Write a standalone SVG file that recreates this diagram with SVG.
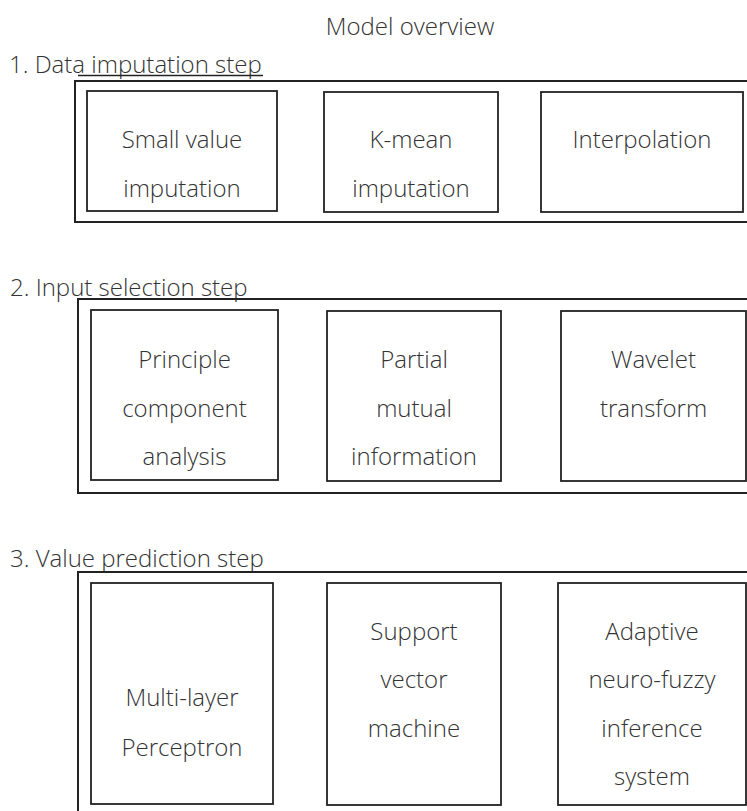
<svg xmlns="http://www.w3.org/2000/svg" width="747" height="811" viewBox="0 0 747 811">
<style>
text{font-family:"Open Sans","Noto Sans","DejaVu Sans",sans-serif;font-size:24px;fill:#333;font-weight:300}
.c{text-anchor:middle}
.outer{fill:none;stroke:#222;stroke-width:2}
.box{fill:#fff;stroke:#222;stroke-width:1.8}
.ul{stroke:#222;stroke-width:1.5}
</style>
<rect width="747" height="811" fill="#fff"/>
<text id="title" class="c" x="410" y="35">Model overview</text>

<g id="step1">
<rect class="outer" x="75" y="81" width="690" height="141"/>
<text x="9" y="73">1. Data imputation step</text>
<line class="ul" x1="78" y1="75.5" x2="263" y2="75.5"/>
<g id="small-value"><rect class="box" x="87" y="91" width="190" height="120"/><text class="c" x="182" y="148">Small value</text><text class="c" x="182" y="197">imputation</text></g>
<g id="k-mean"><rect class="box" x="324" y="92" width="174" height="120"/><text class="c" x="411" y="148">K-mean</text><text class="c" x="411" y="197">imputation</text></g>
<g id="interpolation"><rect class="box" x="541" y="92" width="202" height="120"/><text class="c" x="642" y="148">Interpolation</text></g>
</g>

<g id="step2">
<text x="10" y="296">2. Input selection step</text>
<rect class="outer" x="78" y="299" width="690" height="194"/>
<g id="pca"><rect class="box" x="91" y="310" width="187" height="170"/><text class="c" x="184.5" y="368">Principle</text><text class="c" x="184.5" y="417">component</text><text class="c" x="184.5" y="465">analysis</text></g>
<g id="pmi"><rect class="box" x="327" y="311" width="174" height="170"/><text class="c" x="414" y="368">Partial</text><text class="c" x="414" y="417">mutual</text><text class="c" x="414" y="465">information</text></g>
<g id="wavelet"><rect class="box" x="561" y="311" width="185" height="170"/><text class="c" x="653.5" y="368">Wavelet</text><text class="c" x="653.5" y="417">transform</text></g>
</g>

<g id="step3">
<text x="10" y="567">3. Value prediction step</text>
<rect class="outer" x="78" y="572" width="690" height="260"/>
<g id="mlp"><rect class="box" x="91" y="583" width="182" height="221"/><text class="c" x="182" y="706">Multi-layer</text><text class="c" x="182" y="756">Perceptron</text></g>
<g id="svm"><rect class="box" x="327" y="583" width="174" height="222"/><text class="c" x="414" y="640">Support</text><text class="c" x="414" y="688">vector</text><text class="c" x="414" y="737">machine</text></g>
<g id="anfis"><rect class="box" x="558" y="583" width="188" height="222"/><text class="c" x="652" y="640">Adaptive</text><text class="c" x="652" y="688">neuro-fuzzy</text><text class="c" x="652" y="737">inference</text><text class="c" x="652" y="785">system</text></g>
</g>
<g id="connectors"/>
</svg>
